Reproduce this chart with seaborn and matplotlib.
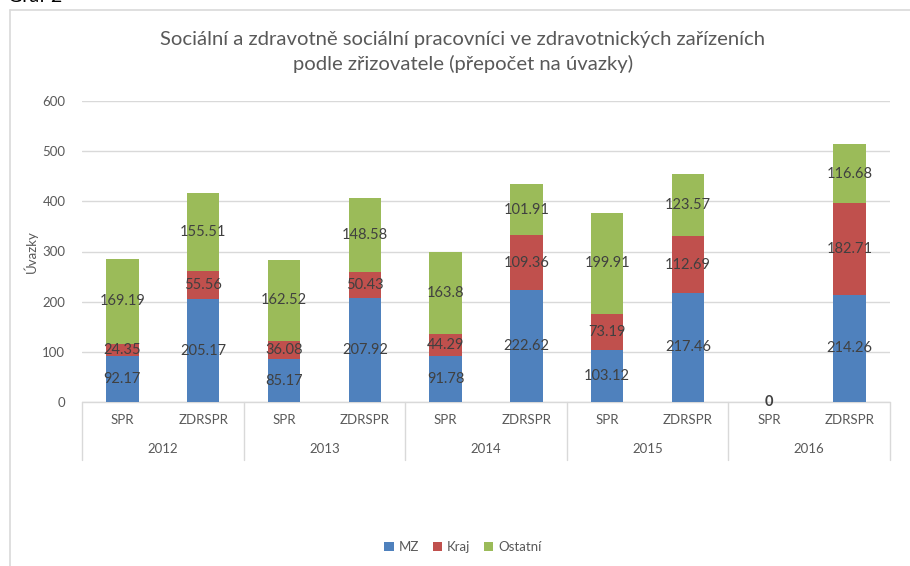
import matplotlib
matplotlib.use("Agg")
import matplotlib.pyplot as plt
from matplotlib.lines import Line2D
from matplotlib.patches import Patch
import matplotlib.transforms as mtransforms
import numpy as np
import pandas as pd
import seaborn as sns

# Data: FTE of social workers by founder, per year and facility type
years = ["2012", "2013", "2014", "2015", "2016"]
types = ["SPR", "ZDRSPR"]
mz = [92.17, 205.17, 85.17, 207.92, 91.78, 222.62, 103.12, 217.46, 0, 214.26]
kraj = [24.35, 55.56, 36.08, 50.43, 44.29, 109.36, 73.19, 112.69, 0, 182.71]
ostatni = [169.19, 155.51, 162.52, 148.58, 163.8, 101.91, 199.91, 123.57, 0, 116.68]
series_names = ["MZ", "Kraj", "Ostatní"]
colors = ["#4F81BD", "#C0504D", "#9BBB59"]
yticks = [0, 100, 200, 300, 400, 500, 600]

title = ("Sociální a zdravotně sociální pracovníci ve zdravotnických zařízeních\n"
         "podle zřizovatele (přepočet na úvazky)")
ylabel = "Úvazky"

sns.set_theme(style="white")
plt.rcParams["font.family"] = ["Lato", "DejaVu Sans"]

cats = [f"{y} {t}" for y in years for t in types]
df = pd.DataFrame({"cat": cats, "MZ": mz, "Kraj": kraj, "Ostatní": ostatni})
df["s1"] = df["MZ"]
df["s2"] = df["MZ"] + df["Kraj"]
df["s3"] = df["s2"] + df["Ostatní"]

W, H = 910, 566
fig = plt.figure(figsize=(W / 100, H / 100), dpi=100)
ax = fig.add_axes([82 / W, 1 - 402 / H, (890 - 82) / W, (402 - 101) / H])

grid_c = "#D9D9D9"
text_c = "#595959"

# stacked bars drawn as overlapping cumulative totals
for col, c in zip(["s3", "s2", "s1"], colors[::-1]):
    sns.barplot(data=df, x="cat", y=col, order=cats, color=c, width=0.4,
                saturation=1, edgecolor="none", linewidth=0, ax=ax, zorder=3)

ax.set_xlim(-0.5, len(cats) - 0.5)
ax.set_ylim(0, 600)
ax.set_yticks(yticks)
ax.set_yticklabels([str(v) for v in yticks], fontsize=9.5, color=text_c)
ax.yaxis.grid(True, color=grid_c, linewidth=1)
ax.set_axisbelow(True)
ax.tick_params(axis="y", length=0, pad=12)
ax.tick_params(axis="x", length=0, pad=9)
for s in ax.spines.values():
    s.set_visible(False)
ax.set_ylabel(ylabel, fontsize=9.5, color=text_c, labelpad=3)
ax.set_xlabel("")
ax.set_xticks(range(len(cats)))
ax.set_xticklabels([t for y in years for t in types], fontsize=9.5, color=text_c)

# segment value labels
for i in range(len(cats)):
    if df["s3"][i] == 0:
        ax.text(i, 0, "0", ha="center", va="center", fontsize=10.5,
                color="#404040", fontweight="bold", zorder=5)
        continue
    bottoms = [0, df["s1"][i], df["s2"][i]]
    vals = [mz[i], kraj[i], ostatni[i]]
    for b, v in zip(bottoms, vals):
        ax.text(i, b + v / 2, f"{v:g}", ha="center", va="center",
                fontsize=10.5, color="#404040", zorder=5)

# two-level category axis: year boxes under the type labels
trans = mtransforms.blended_transform_factory(ax.transData, ax.transAxes)
box_bottom = -(460 - 402) / (402 - 101)
ax.plot([-0.5, len(cats) - 0.5], [0, 0], transform=trans, color=grid_c,
        lw=1, clip_on=False, zorder=2)
for k in range(len(years) + 1):
    xk = -0.5 + 2 * k
    ax.plot([xk, xk], [0, box_bottom], transform=trans, color=grid_c,
            lw=1, clip_on=False)
for k, y in enumerate(years):
    ax.text(2 * k + 0.5, -(449 - 402) / (402 - 101), y, transform=trans,
            ha="center", va="center", fontsize=9.5, color=text_c)

fig.text(463 / W, 1 - 52 / H, title, ha="center", va="center",
         fontsize=14.6, color=text_c, linespacing=1.5)

handles = [Patch(facecolor=c, edgecolor="none") for c in colors]
fig.legend(handles, series_names, loc="center", bbox_to_anchor=(463 / W, 1 - 547 / H),
           ncol=3, frameon=False, fontsize=9.5, handlelength=0.7, handleheight=0.7,
           handletextpad=0.4, columnspacing=1.0, labelcolor=text_c)

# outer chart frame and caption above it
fig.add_artist(Line2D([10 / W, 1], [1 - 10 / H, 1 - 10 / H], color="#D9D9D9", lw=1.2))
fig.add_artist(Line2D([10 / W, 10 / W], [0, 1 - 10 / H], color="#D9D9D9", lw=1.2))
fig.text(8 / W, 1 + 4 / H, "Graf 2", ha="left", va="center", fontsize=14,
         color="black")

fig.savefig("out.png", dpi=100)
